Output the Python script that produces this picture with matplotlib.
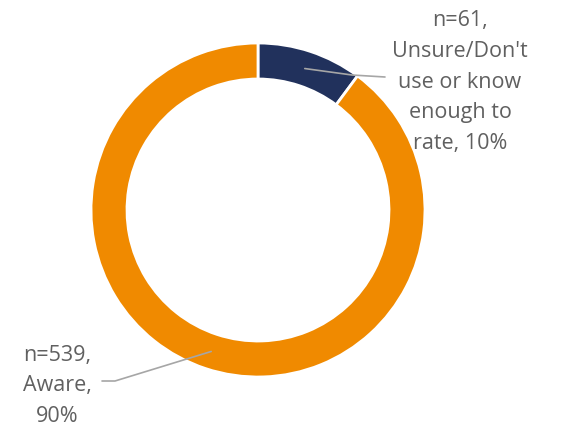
import numpy as np
import matplotlib
matplotlib.use("Agg")
import matplotlib.pyplot as plt

# Survey responses
labels = ["Unsure/Don't\nuse or know\nenough to\nrate", "Aware"]
counts = [61, 539]
colors = ["#21315C", "#F08A00"]

# Label placement (figure pixels, y measured from the top)
label_pos = [(460, 82), (57, 386)]
pct_sep = [" ", "\n"]
elbow_pos = [(352, 76), (115, 382)]
line_end = [(385, 78), (102, 382)]

W, H = 564, 431


def main():
    fig = plt.figure(figsize=(W / 100, H / 100), dpi=100)
    ax = fig.add_axes([0, 0, 1, 1])

    cx, cy, r, ring = 258, H - 211, 167, 36
    wedges, _ = ax.pie(counts, colors=colors, startangle=90, counterclock=False,
                       radius=r, center=(cx, cy),
                       wedgeprops=dict(width=ring, edgecolor="white", linewidth=2))

    total = sum(counts)
    for w, n, lab, sep, (tx, ty), (ex, ey), (lx, ly) in zip(
            wedges, counts, labels, pct_sep, label_pos, elbow_pos, line_end):
        ang = np.deg2rad((w.theta1 + w.theta2) / 2)
        rm = r - ring / 2
        px, py = cx + rm * np.cos(ang), cy + rm * np.sin(ang)
        ax.plot([px, ex, lx], [py, H - ey, H - ly], color="#A6A6A6", lw=1.2,
                solid_capstyle="round", zorder=5)
        pct = round(100 * n / total)
        ax.text(tx, H - ty, f"n={n},\n{lab},{sep}{pct}%", ha="center", va="center",
                fontsize=15.5, color="#606060", family="Open Sans",
                linespacing=1.6)

    ax.set_xlim(0, W)
    ax.set_ylim(0, H)
    ax.set_aspect("auto")
    ax.axis("off")
    fig.savefig("out.png", dpi=100)


if __name__ == "__main__":
    main()
